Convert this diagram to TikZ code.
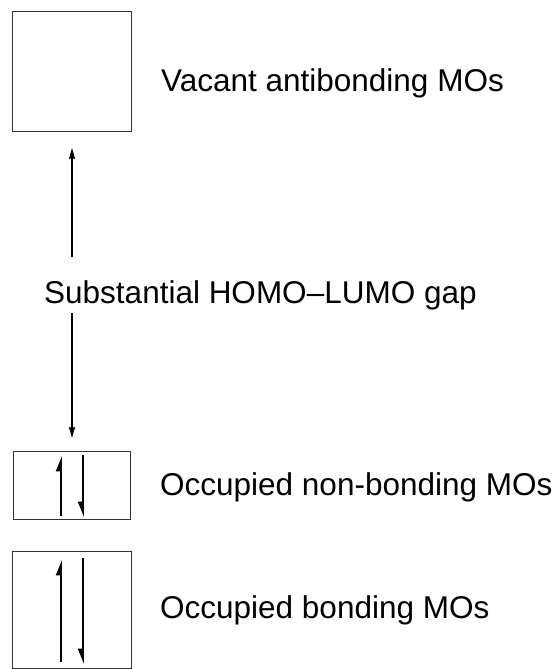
\documentclass[tikz,border=0pt]{standalone}
\usepackage{fontspec}
\setmainfont{Liberation Sans}
\usetikzlibrary{arrows.meta}
\begin{document}
\begin{tikzpicture}[x=1pt,y=-1pt,
  levelbox/.style={draw=black!80,line width=0.9pt},
  label/.style={anchor=base west,inner sep=0pt,font=\fontsize{31.5}{38}\selectfont},
  gaparrow/.style={line width=1.3pt,-{Stealth[length=11pt,width=6pt,inset=1pt]}},
  spinup/.style={line width=1.8pt,-{Triangle[harpoon,length=13pt,width=10pt]}},
  spindown/.style={line width=1.8pt,-{Triangle[harpoon,swap,length=13pt,width=10pt]}}]
  \useasboundingbox (0,0) rectangle (557,669);

  % energy levels
  \draw[levelbox] (12,11) rectangle (131,131);
  \draw[levelbox] (13,451) rectangle (130,519);
  \draw[levelbox] (12,551) rectangle (131,668);

  % labels
  \node[label] (vacant) at (161,91) {Vacant antibonding MOs};
  \node[label] (gap) at (44,303) {Substantial HOMO--LUMO gap};
  \node[label] (nonbond) at (160,495) {Occupied non-bonding MOs};
  \node[label] (bond) at (160,618) {Occupied bonding MOs};

  % gap arrows
  \coordinate (upTail) at (72,257);
  \coordinate (upTip) at (72,148);
  \coordinate (downTail) at (72,313);
  \coordinate (downTip) at (72,438);
  \draw[gaparrow] (upTail) -- (upTip);
  \draw[gaparrow] (downTail) -- (downTip);

  % electron pairs
  \coordinate (nbUpA) at (61,516);
  \coordinate (nbUpB) at (61,456);
  \coordinate (nbDnA) at (83,455);
  \coordinate (nbDnB) at (83,517);
  \draw[spinup] (nbUpA) -- (nbUpB);
  \draw[spindown] (nbDnA) -- (nbDnB);
  \coordinate (bUpA) at (61,662);
  \coordinate (bUpB) at (61,560);
  \coordinate (bDnA) at (83,558);
  \coordinate (bDnB) at (83,664);
  \draw[spinup] (bUpA) -- (bUpB);
  \draw[spindown] (bDnA) -- (bDnB);
\end{tikzpicture}
\end{document}
